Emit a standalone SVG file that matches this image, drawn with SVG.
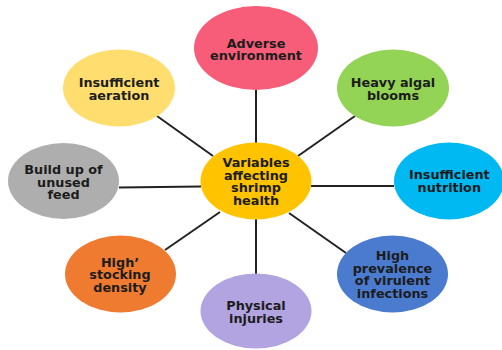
<svg xmlns="http://www.w3.org/2000/svg" width="502" height="350" viewBox="0 0 502 350">
  <style>
    .link { stroke: #222222; stroke-width: 2; fill: none; }
    .label { font-family: "DejaVu Sans", "Liberation Sans", sans-serif; font-weight: bold; font-size: 12.8px; fill: #1c1c1c; text-anchor: middle; }
  </style>
  <rect x="0" y="0" width="502" height="350" fill="#ffffff"/>

  <!-- spokes from the hub to each factor -->
  <g id="connectors">
    <line class="link" x1="256" y1="90" x2="256" y2="143"/>
    <line class="link" x1="157" y1="116" x2="213" y2="156"/>
    <line class="link" x1="355" y1="116" x2="298" y2="156"/>
    <line class="link" x1="119" y1="187.5" x2="201" y2="186.5"/>
    <line class="link" x1="311" y1="186" x2="394" y2="186"/>
    <line class="link" x1="165" y1="250" x2="220" y2="212"/>
    <line class="link" x1="289" y1="213" x2="346" y2="253"/>
    <line class="link" x1="256" y1="219" x2="256" y2="274"/>
  </g>

  <g id="adverse-environment">
    <ellipse cx="256" cy="48" rx="62" ry="42" fill="#F75C78"/>
    <text class="label" x="256" y="47.7">Adverse</text>
    <text class="label" x="256" y="60">environment</text>
  </g>

  <g id="insufficient-aeration">
    <ellipse cx="119" cy="88" rx="56" ry="38.5" fill="#FFDD6E"/>
    <text class="label" x="119" y="87.3">Insufficient</text>
    <text class="label" x="119" y="99.5">aeration</text>
  </g>

  <g id="heavy-algal-blooms">
    <ellipse cx="393" cy="88" rx="56" ry="38.5" fill="#93D456"/>
    <text class="label" x="393" y="87.3">Heavy algal</text>
    <text class="label" x="393" y="99.5">blooms</text>
  </g>

  <g id="build-up-feed">
    <ellipse cx="63.5" cy="181" rx="55.5" ry="38" fill="#AEAEAE"/>
    <text class="label" x="63.5" y="173.5">Build up of</text>
    <text class="label" x="63.5" y="186.5">unused</text>
    <text class="label" x="63.5" y="199.3">feed</text>
  </g>

  <g id="shrimp-health">
    <ellipse cx="256" cy="181" rx="55.5" ry="38.5" fill="#FFC300"/>
    <text class="label" x="256" y="167.3">Variables</text>
    <text class="label" x="256" y="179.6">affecting</text>
    <text class="label" x="256" y="192.4">shrimp</text>
    <text class="label" x="256" y="205">health</text>
  </g>

  <g id="insufficient-nutrition">
    <ellipse cx="449" cy="181" rx="55" ry="38.5" fill="#00B8F2"/>
    <text class="label" x="449.3" y="179.3">Insufficient</text>
    <text class="label" x="449.3" y="192.3">nutrition</text>
  </g>

  <g id="high-stocking-density">
    <ellipse cx="120.5" cy="274" rx="55.5" ry="38.5" fill="#EE7B30"/>
    <text class="label" x="120" y="266.7">High’</text>
    <text class="label" x="120" y="279">stocking</text>
    <text class="label" x="120" y="291.7">density</text>
  </g>

  <g id="high-prevalence-infections">
    <ellipse cx="392.5" cy="274" rx="55.5" ry="38.5" fill="#4A7BCE"/>
    <text class="label" x="392.5" y="260">High</text>
    <text class="label" x="392.5" y="272.7">prevalence</text>
    <text class="label" x="392.5" y="285">of virulent</text>
    <text class="label" x="392.5" y="297.7">infections</text>
  </g>

  <g id="physical-injuries">
    <ellipse cx="256" cy="311" rx="55.5" ry="37.5" fill="#B2A4E0"/>
    <text class="label" x="256" y="310">Physical</text>
    <text class="label" x="256" y="322.7">injuries</text>
  </g>
</svg>
